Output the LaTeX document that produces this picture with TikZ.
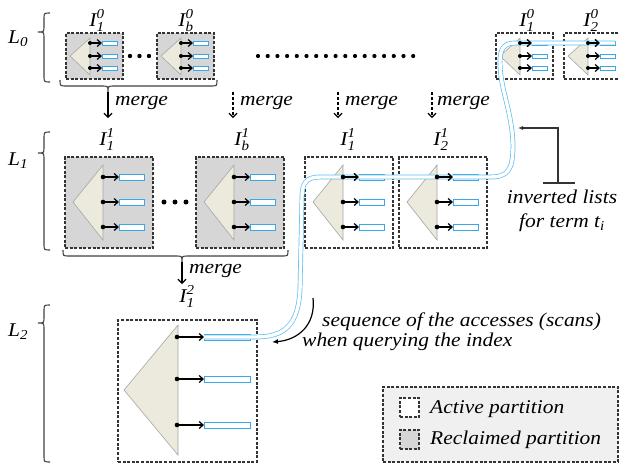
\documentclass[tikz,border=0pt]{standalone}
\usepackage{amsmath}
\usepackage{fontspec}
\setmainfont{Liberation Serif}[FakeStretch=1.1]
\usetikzlibrary{arrows.meta}
\definecolor{boxgrey}{HTML}{D6D6D6}
\definecolor{trifill}{HTML}{ECE9DD}
\definecolor{tridraw}{HTML}{A6A6A6}
\definecolor{listblue}{HTML}{3AA8E6}
\definecolor{pathblue}{HTML}{5BBEF0}
\definecolor{legfill}{HTML}{F0F0F0}
\newcommand\ilbl[3]{\textit{#1}$_{\textit{#2}}^{\textit{#3}}$}
\newcommand\llbl[2]{\textit{#1}$_{\textit{#2}}$}
% small partition (level 0)
\newcommand\partS[4]{%
 \begin{scope}[shift={(#2,#3)}]
  \node[pbox, fill=#4, minimum width=57pt, minimum height=46pt] (#1) at (28.5,23) {};
  \draw[tri] (4,23) -- (24,5) -- (24,42) -- cycle;
  \foreach \k/\yy in {1/10,2/23,3/35}{
    \node[lst, minimum width=15pt, minimum height=4pt, anchor=west] (#1-l\k) at (36,\yy) {};
    \coordinate (#1-d\k) at (24,\yy);
    \draw[la] (#1-d\k) -- (#1-l\k.west);
    \fill (#1-d\k) circle (2pt);
  }
 \end{scope}}
% medium partition (level 1)
\newcommand\partM[4]{%
 \begin{scope}[shift={(#2,#3)}]
  \node[pbox, fill=#4, minimum width=88pt, minimum height=91pt] (#1) at (44,45.5) {};
  \draw[tri] (8,45) -- (38,8) -- (38,83) -- cycle;
  \foreach \k/\yy in {1/20,2/45,3/70}{
    \node[lst, minimum width=25pt, minimum height=6pt, anchor=west] (#1-l\k) at (54,\yy) {};
    \coordinate (#1-d\k) at (38,\yy);
    \draw[la] (#1-d\k) -- (#1-l\k.west);
    \fill (#1-d\k) circle (2.3pt);
  }
 \end{scope}}
% large partition (level 2)
\newcommand\partL[4]{%
 \begin{scope}[shift={(#2,#3)}]
  \node[pbox, fill=#4, minimum width=139pt, minimum height=142pt] (#1) at (69.5,71) {};
  \draw[tri] (6,70) -- (60,5) -- (60,135) -- cycle;
  \foreach \k/\yy in {1/17,2/59,3/105}{
    \node[lst, minimum width=46pt, minimum height=6pt, anchor=west] (#1-l\k) at (86,\yy) {};
    \coordinate (#1-d\k) at (59,\yy);
    \draw[la] (#1-d\k) -- (#1-l\k.west);
    \fill (#1-d\k) circle (2.3pt);
  }
 \end{scope}}
\newcommand\hbrc[4]{% x1, x2, y, tip x
  \draw[br] (#1,#3) .. controls (#1,#3+6) .. (#1+6,#3+6) -- (#4-6,#3+6)
    .. controls (#4,#3+6) .. (#4,#3+12) .. controls (#4,#3+6) .. (#4+6,#3+6)
    -- (#2-6,#3+6) .. controls (#2,#3+6) .. (#2,#3);}
\newcommand\vbrc[3]{% top, bottom, tip y
  \draw[br] (50,#1) .. controls (44,#1) .. (44,#1+6) -- (44,#3-6)
    .. controls (44,#3) .. (38,#3) .. controls (44,#3) .. (44,#3+6)
    -- (44,#2-6) .. controls (44,#2) .. (50,#2);}
\begin{document}
\begin{tikzpicture}[x=1pt,y=-1pt,
  font=\fontsize{19.5}{22}\selectfont\itshape,
  pbox/.style={draw=black!80, dash pattern=on 3pt off 1.6pt, line width=1.4pt, inner sep=0pt, outer sep=0pt},
  tri/.style={draw=tridraw, fill=trifill, line width=0.6pt},
  lst/.style={draw=listblue, fill=white, line width=1pt, inner sep=0pt, outer sep=0pt},
  la/.style={-{Straight Barb[length=4pt,width=7pt]}, line width=1.2pt},
  br/.style={draw=black!75, line width=1.1pt},
  mergearrow/.style={-{Straight Barb[length=4pt,width=8pt]}, line width=1.1pt},
  dmerge/.style={mergearrow, dash pattern=on 3pt off 2pt},
  bluepath/.style={draw=pathblue, double=white, line width=0.7pt, double distance=3.4pt},
  txt/.style={inner sep=0pt, anchor=base west},
  ilab/.style={inner sep=0pt, anchor=base}
  ]
\useasboundingbox (0,0) rectangle (619,467);

% ---- level labels and braces
\node[txt] (L0) at (8,43) {\llbl{L}{0}};
\node[txt] (L1) at (8,165) {\llbl{L}{1}};
\node[txt] (L2) at (8,336) {\llbl{L}{2}};
\vbrc{13}{82}{32}
\vbrc{132}{250}{153}
\vbrc{305}{462}{323}

% ---- level 0
\partS{a01}{66}{33}{boxgrey}
\partS{a0b}{157}{33}{boxgrey}
\partS{r01}{496}{33}{white}
\partS{r02}{564}{33}{white}
\node[ilab] (la01) at (97,26) {\ilbl{I}{1}{0}};
\node[ilab] (la0b) at (186,26) {\ilbl{I}{b}{0}};
\node[ilab] (lr01) at (527,26) {\ilbl{I}{1}{0}};
\node[ilab] (lr02) at (591,26) {\ilbl{I}{2}{0}};
\foreach \xx in {130,139.5,149}{\fill (\xx,56) circle (2.2pt);}
\foreach \i in {0,...,16}{\fill (258+9.7*\i,56) circle (2.1pt);}

% ---- level 1
\partM{a11}{65}{157}{boxgrey}
\partM{a1b}{196}{157}{boxgrey}
\partM{r11}{305}{157}{white}
\partM{r12}{399}{157}{white}
\node[ilab] (la11) at (107,145) {\ilbl{I}{1}{1}};
\node[ilab] (la1b) at (242,145) {\ilbl{I}{b}{1}};
\node[ilab] (lr11) at (348,145) {\ilbl{I}{1}{1}};
\node[ilab] (lr12) at (441,145) {\ilbl{I}{2}{1}};
\foreach \xx in {164,175,186}{\fill (\xx,202) circle (2.5pt);}

% ---- level 2
\partL{r2}{118}{320}{white}
\node[ilab] (lr2) at (187,302) {\ilbl{I}{1}{2}};

% ---- merges
\hbrc{60}{217}{80}{108}
\coordinate (m1s) at (108,92); \coordinate (m1e) at (108,118);
\draw[mergearrow] (m1s) -- (m1e);
\node[txt] (m1t) at (115,105) {merge};
\coordinate (m2s) at (233,92); \coordinate (m2e) at (233,118);
\draw[dmerge] (m2s) -- (m2e);
\node[txt] (m2t) at (240,105) {merge};
\coordinate (m3s) at (338,92); \coordinate (m3e) at (338,118);
\draw[dmerge] (m3s) -- (m3e);
\node[txt] (m3t) at (345,105) {merge};
\coordinate (m4s) at (432,92); \coordinate (m4e) at (432,118);
\draw[dmerge] (m4s) -- (m4e);
\node[txt] (m4t) at (437,105) {merge};
\hbrc{63}{288}{250}{182}
\coordinate (m5s) at (182,262); \coordinate (m5e) at (182,284);
\draw[mergearrow] (m5s) -- (m5e);
\node[txt] (m5t) at (189,273) {merge};

% ---- access sequence path
\draw[bluepath] (r02-l1.east) -- (515,43) .. controls (503,43) and (500,50) .. (500,62)
  .. controls (500,90) and (512,110) .. (513,145)
  .. controls (513,170) and (508,177) .. (490,177) -- (320,177)
  .. controls (306,177) and (302,183) .. (302,198) -- (300,290)
  .. controls (298,325) and (285,337) .. (255,337) -- (r2-l1.west);
\foreach \n in {r01,r02}{\draw[la] (\n-d1) -- (\n-l1.west); \fill (\n-d1) circle (2pt);}
\foreach \n in {r11,r12}{\draw[la] (\n-d1) -- (\n-l1.west); \fill (\n-d1) circle (2.3pt);}

% ---- callout: inverted lists
\coordinate (ctip) at (518,128);
\coordinate (ccor) at (558,128);
\coordinate (cbot) at (558,183);
\coordinate (cbl) at (543,183);
\coordinate (cbr) at (575,183);
\draw[line width=1.4pt, black!80, -{Latex[length=5pt,width=4pt]}] (cbot) -- (ccor) -- (ctip);
\draw[line width=1.4pt, black!80] (cbl) -- (cbr);
\node[align=center, inner sep=0pt, font=\fontsize{19.5}{24}\selectfont\itshape] (ctext) at (562,211)
  {inverted lists\\for term \textit{t}$_{\textit{i}}$};

% ---- sequence annotation
\coordinate (seqs) at (313,298);
\coordinate (seqe) at (272,342);
\draw[line width=1.2pt, -{Latex[length=6pt,width=5pt]}] (seqs) .. controls (316,325) and (298,340) .. (seqe);
\node[txt] (seq1) at (322,326) {sequence of the accesses (scans)};
\node[txt] (seq2) at (302,346) {when querying the index};

% ---- legend
\node[pbox, fill=legfill, minimum width=235pt, minimum height=75pt, line width=1.1pt] (legend) at (500.5,424.5) {};
\node[pbox, fill=white, minimum size=19pt, line width=1.1pt] (sqa) at (409.5,407.5) {};
\node[pbox, fill=boxgrey, minimum size=19pt, line width=1.1pt] (sqr) at (409.5,439.5) {};
\node[txt] (ta) at (430,413) {Active partition};
\node[txt] (tr) at (430,444) {Reclaimed partition};
\end{tikzpicture}
\end{document}
